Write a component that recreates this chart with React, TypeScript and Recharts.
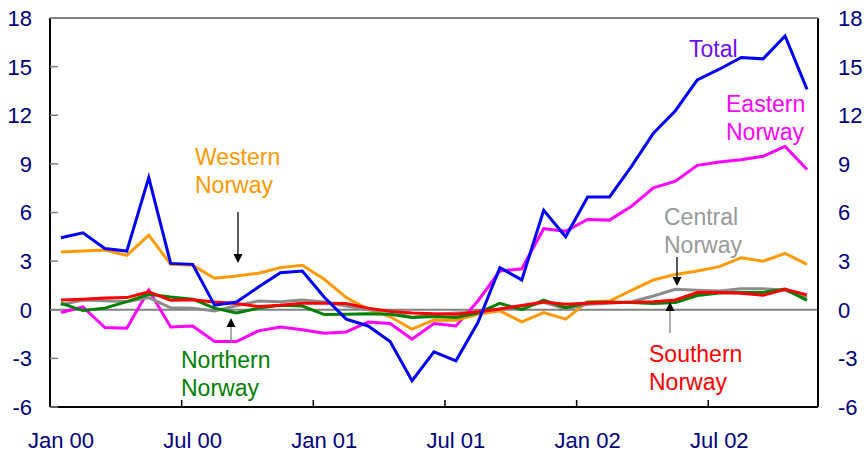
import React from 'react';
import { LineChart, Line, XAxis, YAxis, ReferenceLine } from 'recharts';

const W = 868;
const H = 454;

const months = [
  'Jan 00', 'Feb 00', 'Mar 00', 'Apr 00', 'May 00', 'Jun 00', 'Jul 00', 'Aug 00', 'Sep 00', 'Oct 00', 'Nov 00', 'Dec 00',
  'Jan 01', 'Feb 01', 'Mar 01', 'Apr 01', 'May 01', 'Jun 01', 'Jul 01', 'Aug 01', 'Sep 01', 'Oct 01', 'Nov 01', 'Dec 01',
  'Jan 02', 'Feb 02', 'Mar 02', 'Apr 02', 'May 02', 'Jun 02', 'Jul 02', 'Aug 02', 'Sep 02', 'Oct 02', 'Nov 02',
];

const total = [4.44, 4.75, 3.78, 3.62, 8.15, 2.86, 2.8, 0.28, 0.48, 1.4, 2.29, 2.39, 0.77, -0.58, -1.0, -1.96, -4.38, -2.6, -3.15, -0.79, 2.6, 1.84, 6.14, 4.5, 6.96, 6.96, 8.85, 10.9, 12.28, 14.18, 14.84, 15.56, 15.48, 16.89, 13.6];
const eastern = [-0.17, 0.17, -1.1, -1.14, 1.22, -1.06, -1.0, -1.96, -1.96, -1.3, -1.06, -1.24, -1.45, -1.37, -0.75, -0.85, -1.82, -0.85, -1.0, 0.54, 2.39, 2.53, 5.0, 4.85, 5.57, 5.53, 6.39, 7.52, 7.93, 8.91, 9.12, 9.26, 9.47, 10.08, 8.65];
const western = [3.56, 3.62, 3.68, 3.35, 4.6, 2.8, 2.74, 1.94, 2.08, 2.25, 2.6, 2.74, 1.88, 0.75, 0.03, -0.42, -1.2, -0.63, -0.65, -0.28, -0.07, -0.75, -0.17, -0.58, 0.5, 0.54, 1.2, 1.84, 2.18, 2.39, 2.66, 3.21, 3.0, 3.48, 2.8];
const central = [0.3, 0.6, 0.55, 0.5, 0.75, 0.12, 0.1, -0.08, 0.25, 0.54, 0.5, 0.6, 0.48, 0.23, 0.0, -0.1, -0.48, -0.3, -0.2, -0.15, 0.05, 0.16, 0.46, 0.05, 0.34, 0.4, 0.5, 0.85, 1.26, 1.2, 1.16, 1.3, 1.3, 1.2, 0.75];
const northern = [0.4, -0.05, 0.1, 0.5, 0.95, 0.78, 0.65, 0.1, -0.2, 0.1, 0.28, 0.23, -0.3, -0.28, -0.25, -0.28, -0.48, -0.42, -0.48, -0.2, 0.4, 0.0, 0.6, 0.13, 0.45, 0.48, 0.44, 0.38, 0.44, 0.88, 1.03, 1.06, 1.06, 1.27, 0.58];
const southern = [0.6, 0.65, 0.72, 0.75, 1.1, 0.58, 0.62, 0.48, 0.38, 0.2, 0.28, 0.4, 0.4, 0.38, 0.1, -0.1, -0.2, -0.24, -0.28, -0.13, 0.05, 0.27, 0.48, 0.34, 0.4, 0.45, 0.46, 0.5, 0.6, 1.06, 1.06, 1.02, 0.89, 1.26, 0.92];

const yTicks = [-6, -3, 0, 3, 6, 9, 12, 15, 18];

const data = months.map((m, i) => ({
  month: m,
  total: total[i],
  eastern: eastern[i],
  western: western[i],
  central: central[i],
  northern: northern[i],
  southern: southern[i],
}));

const FONT = '"Liberation Sans", Arial, sans-serif';
const NAVY = '#000080';
const LEFT_W = 50;
const RIGHT_W = 50;
const X_H = 47;
const TOP = 18;
const bandW = (W - LEFT_W - RIGHT_W) / months.length;

const XTick = (props: any) => {
  const { x, y, payload } = props;
  const bx = x - bandW / 2;
  return (
    <g>
      <line x1={bx} x2={bx} y1={y} y2={y - 7} stroke="#000" strokeWidth={1.5} />
      <text x={x} y={y + 41} textAnchor="middle" fill={NAVY} fontSize={22} fontFamily={FONT}>
        {payload.value}
      </text>
    </g>
  );
};

const LeftTick = (props: any) => {
  const { x, y, payload } = props;
  return (
    <g>
      <line x1={x} x2={x + 8} y1={y} y2={y} stroke="#808080" strokeWidth={1.5} />
      <text x={x - 18} y={y} dy="0.36em" textAnchor="end" fill={NAVY} fontSize={22} fontFamily={FONT}>
        {payload.value}
      </text>
    </g>
  );
};

const RightTick = (props: any) => {
  const { x, y, payload } = props;
  return (
    <text x={x + 20} y={y} dy="0.36em" textAnchor="start" fill={NAVY} fontSize={22} fontFamily={FONT}>
      {payload.value}
    </text>
  );
};

const ArrowDown = ({ x, y1, y2, color }: { x: number; y1: number; y2: number; color: string }) => (
  <g>
    <line x1={x} x2={x} y1={y1} y2={y2 - 6} stroke={color} strokeWidth={1.3} />
    <polygon points={`${x - 4.5},${y2 - 9} ${x + 4.5},${y2 - 9} ${x},${y2}`} fill="#000" />
  </g>
);

const ArrowUp = ({ x, y1, y2, color }: { x: number; y1: number; y2: number; color: string }) => (
  <g>
    <line x1={x} x2={x} y1={y1} y2={y2 + 6} stroke={color} strokeWidth={1.3} />
    <polygon points={`${x - 4.5},${y2 + 9} ${x + 4.5},${y2 + 9} ${x},${y2}`} fill="#000" />
  </g>
);

const Label2 = ({ x, y, lines, color }: { x: number; y: number; lines: string[]; color: string }) => (
  <text x={x} y={y} fill={color} fontSize={23} fontFamily={FONT}>
    {lines.map((l, i) => (
      <tspan key={i} x={x} y={y + i * 28}>
        {l}
      </tspan>
    ))}
  </text>
);

export default function App() {
  return (
    <div style={{ position: 'absolute', left: 0, top: 0, width: W, height: H, background: '#fff' }}>
      <LineChart width={W} height={H} data={data} margin={{ top: TOP, right: 0, bottom: 0, left: 0 }}>
        <XAxis
          dataKey="month"
          scale="band"
          interval={5}
          height={X_H}
          tickSize={0}
          tickMargin={0}
          tickLine={false}
          tick={<XTick />}
          axisLine={{ stroke: '#000', strokeWidth: 2 }}
        />
        <YAxis
          yAxisId="left"
          domain={[-6, 18]}
          ticks={yTicks}
          interval={0}
          width={LEFT_W}
          tickSize={0}
          tickMargin={0}
          tickLine={false}
          tick={<LeftTick />}
          axisLine={{ stroke: '#000', strokeWidth: 2 }}
        />
        <YAxis
          yAxisId="right"
          orientation="right"
          domain={[-6, 18]}
          ticks={yTicks}
          interval={0}
          width={RIGHT_W}
          tickSize={0}
          tickMargin={0}
          tickLine={false}
          tick={<RightTick />}
          stroke="#000"
          axisLine={{ stroke: '#000', strokeWidth: 2 }}
        />
        <ReferenceLine yAxisId="left" y={0} stroke="#808080" strokeWidth={2} />
        <Line yAxisId="left" dataKey="eastern" stroke="#FF00FF" strokeWidth={3} dot={false} isAnimationActive={false} />
        <Line yAxisId="left" dataKey="western" stroke="#FF9900" strokeWidth={3} dot={false} isAnimationActive={false} />
        <Line yAxisId="left" dataKey="central" stroke="#8C8C8C" strokeWidth={3} dot={false} isAnimationActive={false} />
        <Line yAxisId="left" dataKey="northern" stroke="#008000" strokeWidth={3} dot={false} isAnimationActive={false} />
        <Line yAxisId="left" dataKey="southern" stroke="#FF0000" strokeWidth={3} dot={false} isAnimationActive={false} />
        <Line yAxisId="left" dataKey="total" stroke="#0000FF" strokeWidth={3} dot={false} isAnimationActive={false} />
        <Line yAxisId="right" dataKey="total" stroke="none" strokeWidth={0} dot={false} legendType="none" isAnimationActive={false} />
      </LineChart>
      <svg width={W} height={H} style={{ position: 'absolute', left: 0, top: 0, pointerEvents: 'none' }}>
        <line x1={LEFT_W} x2={W - RIGHT_W} y1={TOP} y2={TOP} stroke="#808080" strokeWidth={2} />
        <Label2 x={689} y={57} lines={['Total']} color="#6A0DFF" />
        <Label2 x={726} y={112} lines={['Eastern', 'Norway']} color="#FF00FF" />
        <Label2 x={195} y={165} lines={['Western', 'Norway']} color="#FF9900" />
        <Label2 x={664} y={225} lines={['Central', 'Norway']} color="#999999" />
        <Label2 x={181} y={368} lines={['Northern', 'Norway']} color="#008000" />
        <Label2 x={649} y={362} lines={['Southern', 'Norway']} color="#FF0000" />
        <ArrowDown x={238} y1={212} y2={263} color="#000" />
        <ArrowDown x={677} y1={257} y2={286} color="#000" />
        <ArrowUp x={231} y1={343} y2={318} color="#808080" />
        <ArrowUp x={670} y1={333} y2={302} color="#808080" />
      </svg>
    </div>
  );
}
